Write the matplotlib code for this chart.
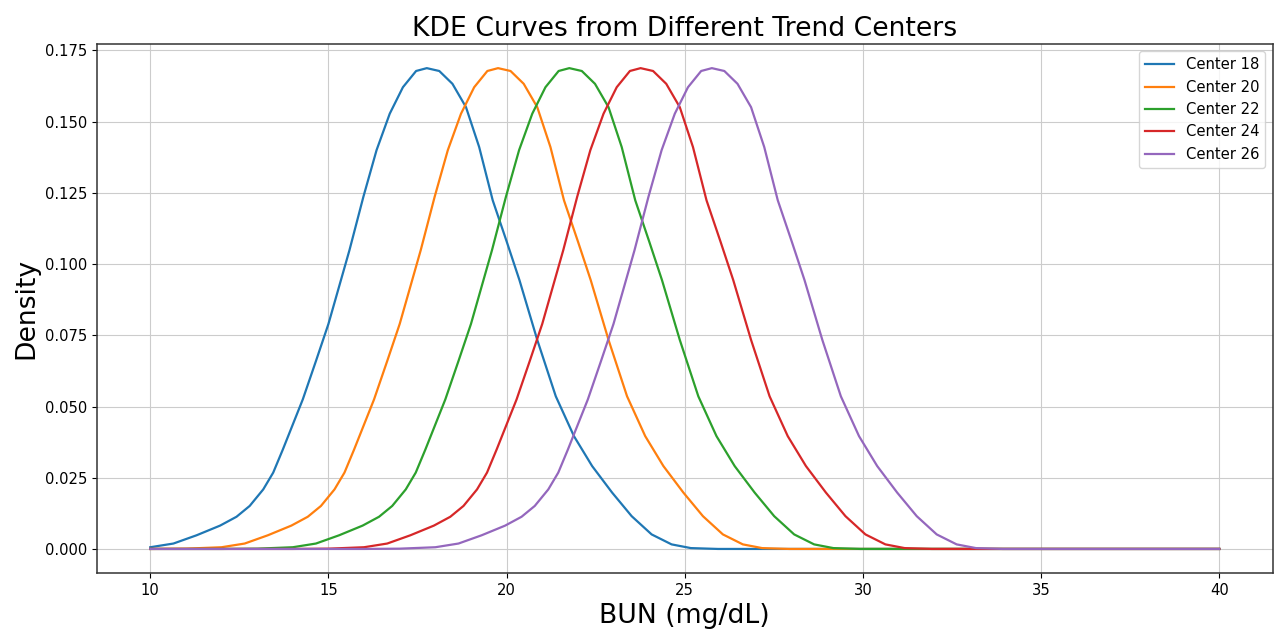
import matplotlib
matplotlib.use("Agg")
import matplotlib.pyplot as plt
import numpy as np

# trend centers for each curve
centers = [18, 20, 22, 24, 26]
labels = ["Center 18", "Center 20", "Center 22", "Center 24", "Center 26"]

# KDE shape, as offset from the trend center (mg/dL)
offset = [-10.0, -9.0, -8.0, -7.35, -6.7, -6.04, -5.58, -5.21, -4.83, -4.55,
          -4.28, -4.0, -3.72, -3.35, -3.0, -2.41, -2.02, -1.65, -1.28, -0.91,
          -0.54, -0.24, 0.11, 0.48, 0.86, 1.23, 1.61, 2.0, 2.36, 2.86, 3.38,
          3.89, 4.40, 4.96, 5.51, 6.07, 6.63, 7.17, 7.93]
density = [0.0, 0.0001, 0.0006, 0.0019, 0.0048, 0.0082, 0.0113, 0.0151, 0.0209,
           0.0268, 0.0349, 0.0437, 0.0525, 0.066, 0.079, 0.1049, 0.1236, 0.140,
           0.1528, 0.1621, 0.1678, 0.1688, 0.1678, 0.1633, 0.1551, 0.1411,
           0.1224, 0.108, 0.0944, 0.0734, 0.0536, 0.0396, 0.0291, 0.0198,
           0.0115, 0.0051, 0.0016, 0.0003, 0.0]

x_min, x_max = 10, 40

fig = plt.figure(figsize=(12.74, 6.30), dpi=100)
ax = fig.add_axes([0.076, 0.0905, 0.923, 0.8395])

for c, lab in zip(centers, labels):
    xs = c + np.array(offset)
    ys = np.array(density)
    keep = (xs >= x_min) & (xs <= x_max)
    xs, ys = xs[keep], ys[keep]
    # flat zero tails out to the evaluation range
    if xs[0] > x_min:
        xs, ys = np.r_[x_min, xs], np.r_[0.0, ys]
    if xs[-1] < x_max:
        xs, ys = np.r_[xs, x_max], np.r_[ys, 0.0]
    ax.plot(xs, ys, label=lab, linewidth=1.6)

ax.set_title("KDE Curves from Different Trend Centers", fontsize=19.2)
ax.set_xlabel("BUN (mg/dL)", fontsize=19.2)
ax.set_ylabel("Density", fontsize=19.2)
ax.tick_params(labelsize=10.6)
ax.legend(loc="upper right", fontsize=10.6)
ax.grid(True, color="#cccccc")
for s in ax.spines.values():
    s.set_color("#333333")
    s.set_linewidth(1.1)

fig.savefig("out.png", dpi=100)
